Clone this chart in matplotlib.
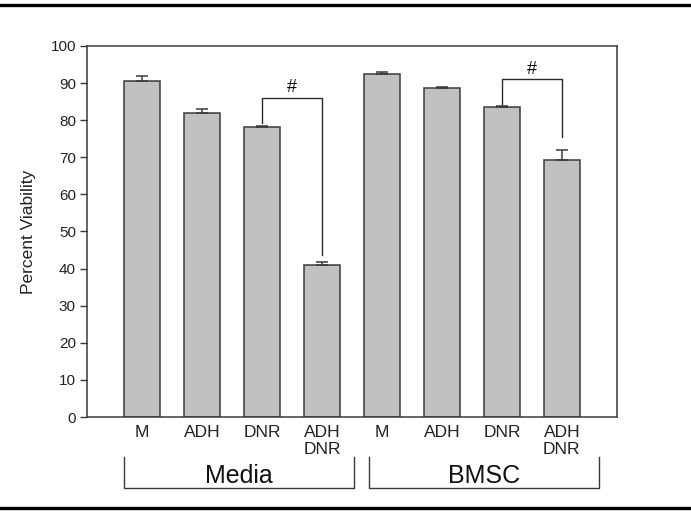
import matplotlib
matplotlib.use("Agg")
import matplotlib.pyplot as plt
from matplotlib.lines import Line2D
from matplotlib.transforms import blended_transform_factory

plt.rcParams['font.family'] = ['Liberation Sans', 'DejaVu Sans']

# Data
tick_labels = ["M", "ADH", "DNR", "ADH\nDNR", "M", "ADH", "DNR", "ADH\nDNR"]
viability = [90.6, 82.0, 78.2, 41.0, 92.4, 88.6, 83.6, 69.4]
errors = [1.3, 0.9, 0.3, 0.7, 0.6, 0.3, 0.15, 2.6]
groups = ["Media", "BMSC"]

# significance brackets: (left bar, right bar, left leg bottom, right leg bottom, top)
sig_brackets = [(2, 3, 79.3, 43.7, 86.1), (6, 7, 84.4, 75.5, 91.0)]

fig = plt.figure(figsize=(6.91, 5.11), dpi=100)
ax = fig.add_axes([87/691, 1 - 417/511, 530/691, 371/511])

x = list(range(len(viability)))
ax.bar(x, viability, width=0.6, color='#c0c0c0', edgecolor='#3a3a3a', linewidth=1.1, zorder=2)
ax.errorbar(x, viability, yerr=[[0]*len(errors), errors], fmt='none', ecolor='#3a3a3a',
            elinewidth=1.1, capsize=4, capthick=1.1, zorder=3)

ax.set_xlim(-0.92, 7.92)
ax.set_ylim(0, 100)
ax.set_yticks(range(0, 101, 10))
ax.tick_params(axis='y', direction='out', length=5, width=1, labelsize=11,
               colors='#3a3a3a', labelcolor='#222222', pad=3)
ax.set_xticks(x)
ax.set_xticklabels(tick_labels, fontsize=12.5, color='#222222', linespacing=1.15)
ax.tick_params(axis='x', length=0, pad=6)
for s in ax.spines.values():
    s.set_color('#3a3a3a')
    s.set_linewidth(1.1)
ax.set_ylabel("Percent Viability", fontsize=12.5, color='#222222', labelpad=10)

# significance brackets
for l, r, lb, rb, top in sig_brackets:
    ax.plot([l, l, r, r], [lb, top, top, rb], color='#2a2a2a', lw=1.0, zorder=4)
    ax.text((l + r) / 2, top + 0.5, "#", ha='center', va='bottom', fontsize=13,
            color='#111111')

# group brackets below the axis
tr = blended_transform_factory(ax.transData, ax.transAxes)
group_spans = [(-0.3, 3.53), (3.78, 7.62)]
for name, (a, b) in zip(groups, group_spans):
    ax.add_line(Line2D([a, a, b, b], [-0.108, -0.191, -0.191, -0.108], transform=tr,
                       color='#3a3a3a', lw=1.0, clip_on=False))
    ax.text((a + b) / 2, -0.158, name, transform=tr, ha='center', va='center',
            fontsize=18, color='#111111')

# page rules above and below
fig.add_artist(Line2D([0, 1], [1 - 5.5/511, 1 - 5.5/511], transform=fig.transFigure,
                      color='black', lw=2.4))
fig.add_artist(Line2D([0, 1], [1 - 508/511, 1 - 508/511], transform=fig.transFigure,
                      color='black', lw=2.4))

fig.savefig("out.png", dpi=100)
